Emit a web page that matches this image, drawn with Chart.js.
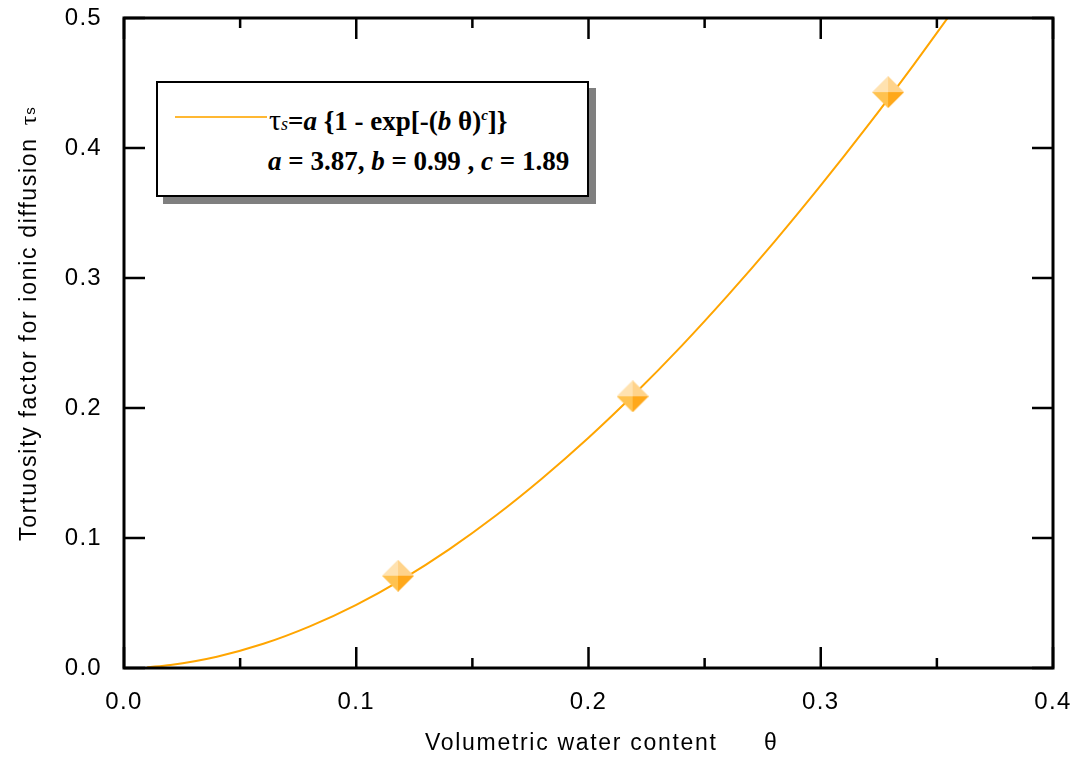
<!DOCTYPE html>
<html>
<head>
<meta charset="utf-8">
<script src="https://cdn.jsdelivr.net/npm/chart.js@4.4.0/dist/chart.umd.min.js"></script>
<style>
html,body{margin:0;padding:0;background:#fff;}
#wrap{position:relative;width:1073px;height:758px;overflow:hidden;}
#c{position:absolute;left:0;top:0;}
.lg-shadow{position:absolute;left:163px;top:88px;width:433px;height:116px;background:#7f7f7f;}
.lg-box{position:absolute;left:156px;top:81px;width:433px;height:116px;box-sizing:border-box;border:2.5px solid #000;background:#fff;}
.lg-line{position:absolute;left:175px;top:116px;width:92px;height:2px;background:#FFB833;}
.lg-txt{position:absolute;left:269px;font-family:'Liberation Serif','Times New Roman',serif;font-weight:bold;font-size:27px;line-height:27px;height:27px;color:#000;white-space:nowrap;}
.lg-txt i{font-style:italic;}
.tau{font-weight:normal;font-size:30px;}
.sub{font-weight:normal;font-style:italic;font-size:18px;}
.sup{font-size:15px;position:relative;top:-10px;font-style:italic;}
</style>
</head>
<body>
<div id="wrap">
<canvas id="c" width="1073" height="758"></canvas>
<div class="lg-shadow"></div>
<div class="lg-box"></div>
<div class="lg-line"></div>
<div class="lg-txt" style="top:106px;"><span class="tau">τ</span><span class="sub">s</span>=<i>a</i> {1 - exp[-(<i>b</i> θ)<span class="sup">c</span>]}</div>
<div class="lg-txt" style="top:148px;left:268px;"><i>a</i> = 3.87, <i>b</i> = 0.99 , <i>c</i> = 1.89</div>
</div>
<script>
// ---- data ----
const THETA = [0.01,0.02,0.04,0.06,0.08,0.10,0.12,0.14,0.16,0.18,0.20,0.22,0.24,0.26,0.28,0.30,0.32,0.34,0.355];
const TAU_FIT = [0.0006,0.0023,0.0087,0.0186,0.0320,0.0486,0.0684,0.0913,0.1171,0.1458,0.1771,0.2111,0.2476,0.2866,0.3278,0.3712,0.4166,0.4640,0.5009];
const OBS_THETA = [0.118,0.219,0.329];
const OBS_TAU = [0.071,0.209,0.443];
const X_MAJOR = [0,0.1,0.2,0.3,0.4];
const X_MINOR = [0.05,0.15,0.25,0.35];
const Y_MAJOR = [0,0.1,0.2,0.3,0.4,0.5];
const X_TITLE = 'Volumetric water content';
const X_TITLE_SYM = 'θ';
const Y_TITLE = 'Tortuosity factor for ionic diffusion';
const Y_TITLE_SYM = 'τ';
const Y_TITLE_SUB = 's';

// diamond marker image
function makeDiamond(r){
  const c = document.createElement('canvas');
  c.width = 2*r; c.height = 2*r;
  const g = c.getContext('2d');
  const cx=r, cy=r;
  const tri=(ax,ay,bx,by,col)=>{g.fillStyle=col;g.beginPath();g.moveTo(cx,cy);g.lineTo(ax,ay);g.lineTo(bx,by);g.closePath();g.fill();};
  tri(cx,0,0,cy,'#FFE2B0');
  tri(cx,0,2*r,cy,'#FFD38A');
  tri(0,cy,cx,2*r,'#FFC24F');
  tri(2*r,cy,cx,2*r,'#FFA81A');
  return c;
}
const diamond = makeDiamond(16);

const frameTicks = {
  id:'frameTicks',
  beforeDraw(chart){ chart.ctx.letterSpacing='1.3px'; },
  afterDatasetsDraw(chart){
    const {ctx, chartArea:a, scales:{x,y}} = chart;
    ctx.save();
    ctx.strokeStyle='#000'; ctx.lineWidth=2.5; ctx.lineCap='butt';
    ctx.beginPath();
    X_MAJOR.forEach(v=>{const p=x.getPixelForValue(v);ctx.moveTo(p,a.bottom);ctx.lineTo(p,a.bottom-21);ctx.moveTo(p,a.top);ctx.lineTo(p,a.top+21);});
    X_MINOR.forEach(v=>{const p=x.getPixelForValue(v);ctx.moveTo(p,a.bottom);ctx.lineTo(p,a.bottom-10);ctx.moveTo(p,a.top);ctx.lineTo(p,a.top+10);});
    Y_MAJOR.forEach(v=>{const p=y.getPixelForValue(v);ctx.moveTo(a.left,p);ctx.lineTo(a.left+21,p);ctx.moveTo(a.right,p);ctx.lineTo(a.right-21,p);});
    ctx.stroke();
    ctx.lineWidth=3;
    ctx.strokeRect(a.left,a.top,a.width,a.height);
    ctx.restore();
  },
  afterDraw(chart){
    const ctx = chart.ctx;
    ctx.save();
    ctx.letterSpacing='1.7px';
    ctx.fillStyle='#000';
    ctx.font='23px "Liberation Sans", Arial, sans-serif';
    ctx.textBaseline='alphabetic';
    ctx.textAlign='left';
    ctx.fillText(X_TITLE, 425, 750);
    ctx.fillText(X_TITLE_SYM, 764, 750);
    // y title rotated
    ctx.translate(36, 541);
    ctx.rotate(-Math.PI/2);
    ctx.fillText(Y_TITLE, 0, 0);
    const w = ctx.measureText(Y_TITLE).width;
    ctx.font='24px "Liberation Serif", "Times New Roman", serif';
    ctx.fillText(Y_TITLE_SYM, w+12, 0);
    const w2 = ctx.measureText(Y_TITLE_SYM).width;
    ctx.font='15px "Liberation Sans", Arial, sans-serif';
    ctx.fillText(Y_TITLE_SUB, w+12+w2-1, -1);
    ctx.restore();
  }
};

const tickFont = {family:'"Liberation Sans", Arial, sans-serif', size:24};

new Chart(document.getElementById('c'), {
  type:'scatter',
  data:{
    datasets:[
      {
        label:'observed',
        data: OBS_THETA.map((t,i)=>({x:t,y:OBS_TAU[i]})),
        pointStyle: diamond,
        pointRadius: 16,
        showLine:false
      },
      {
        label:'fit',
        data: THETA.map((t,i)=>({x:t,y:TAU_FIT[i]})),
        showLine:true,
        borderColor:'#FFA500',
        borderWidth:2,
        pointRadius:0,
        cubicInterpolationMode:'monotone',
        fill:false
      }
    ]
  },
  options:{
    responsive:false,
    animation:false,
    devicePixelRatio:1,
    layout:{padding:{top:18,right:20,left:0,bottom:0}},
    plugins:{legend:{display:false},tooltip:{enabled:false}},
    scales:{
      x:{
        type:'linear', min:0, max:0.4,
        afterFit:s=>{s.height=90; s.paddingLeft=0; s.paddingRight=0;},
        grid:{display:false, drawTicks:false},
        border:{display:false},
        afterBuildTicks:s=>{s.ticks = X_MAJOR.map(v=>({value:v}));},
        ticks:{color:'#000', font:tickFont, padding:20, maxRotation:0, callback:v=>Number(v).toFixed(1)}
      },
      y:{
        type:'linear', min:0, max:0.5,
        afterFit:s=>{s.width=124; s.paddingTop=0; s.paddingBottom=0;},
        grid:{display:false, drawTicks:false},
        border:{display:false},
        afterBuildTicks:s=>{s.ticks = Y_MAJOR.map(v=>({value:v}));},
        ticks:{color:'#000', font:tickFont, padding:22, callback:v=>Number(v).toFixed(1)}
      }
    }
  },
  plugins:[frameTicks]
});
</script>
</body>
</html>
